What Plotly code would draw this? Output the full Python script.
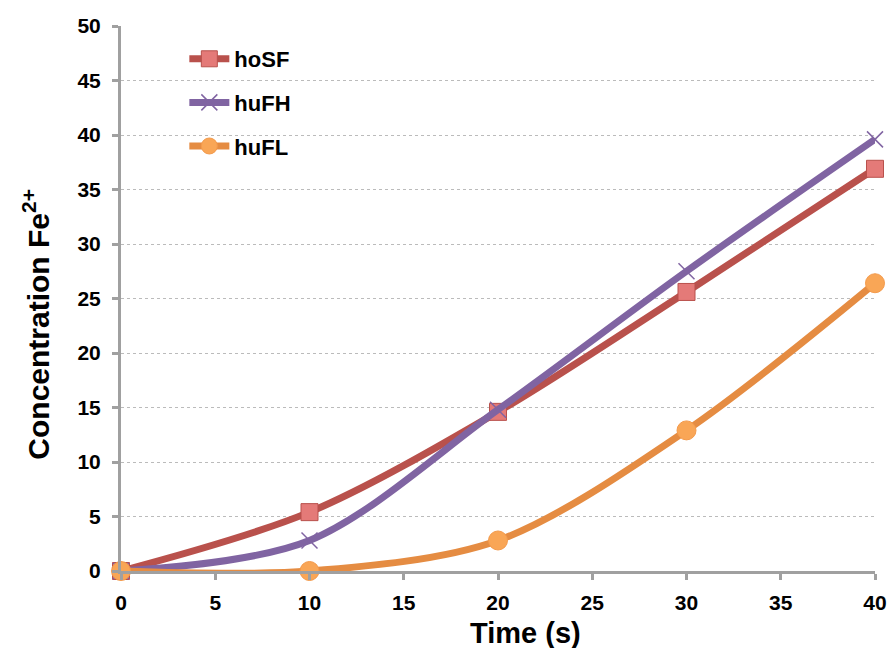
import plotly.graph_objects as go

time_s = [0, 10, 20, 30, 40]
hoSF = [0, 5.4, 14.6, 25.6, 36.9]
huFH = [0, 2.8, 14.8, 27.5, 39.6]
huFL = [0, 0, 2.8, 12.9, 26.4]

x_ticks = [0, 5, 10, 15, 20, 25, 30, 35, 40]
y_ticks = [0, 5, 10, 15, 20, 25, 30, 35, 40, 45, 50]

fig = go.Figure()
series = [
    ("hoSF", hoSF, "#B9514C", dict(symbol="square", size=17, color="#E47A78", line=dict(color="#B9514C", width=1))),
    ("huFH", huFH, "#8064A2", dict(symbol="x-thin", size=16, color="#8064A2", line=dict(color="#8064A2", width=1.5))),
    ("huFL", huFL, "#E58C42", dict(symbol="circle", size=19, color="#F9A656", line=dict(color="#F39A4C", width=1))),
]
for name, ys, col, mk in series:
    fig.add_trace(go.Scatter(
        x=time_s, y=ys, name=f"<b>{name}</b>", legendgroup=name, mode="lines+markers",
        line=dict(color=col, width=7, shape="spline", smoothing=0.9),
        marker=mk, cliponaxis=False,
    ))

fig.update_layout(
    width=890, height=648,
    margin=dict(l=121, r=15, t=26, b=77, autoexpand=False),
    plot_bgcolor="white", paper_bgcolor="white",
    font=dict(family="Liberation Sans, Arial", color="black", size=21),
    showlegend=True,
    legend=dict(x=0.084, y=0.978, xanchor="left", yanchor="top",
                font=dict(size=22, family="Liberation Sans, Arial"),
                bgcolor="rgba(0,0,0,0)", itemwidth=40, tracegroupgap=12),
    xaxis=dict(range=[0, 40], tickvals=x_ticks, ticktext=[f"<b>{v}</b>" for v in x_ticks],
               showline=True, linecolor="#A0A0A0", linewidth=3, ticks="outside",
               tickcolor="#A0A0A0", ticklen=6, tickwidth=3, showgrid=False, zeroline=False,
               automargin=False, ticklabelstandoff=5),
    yaxis=dict(range=[0, 50], tickvals=y_ticks, ticktext=[f"<b>{v}</b>" for v in y_ticks],
               showline=True, linecolor="#A0A0A0", linewidth=3, ticks="outside",
               tickcolor="#A0A0A0", ticklen=6, tickwidth=3,
               showgrid=True, gridcolor="#BBBBBB", griddash="dot", gridwidth=1, zeroline=False,
               automargin=False, ticklabelstandoff=7),
    annotations=[
        dict(text="<b>Time (s)</b>", xref="paper", yref="paper", x=0.536, y=-0.114,
             xanchor="center", yanchor="middle", showarrow=False, font=dict(size=29)),
        dict(text="<b>Concentration Fe<sup>2+</sup></b>", xref="paper", yref="paper",
             x=-0.112, y=0.453, xanchor="center", yanchor="middle", textangle=-90,
             showarrow=False, font=dict(size=30)),
    ],
)
fig.write_html(
    "out.html",
    config={"displayModeBar": False},
    post_script="document.body.style.margin='0';document.body.style.overflow='hidden';",
)
